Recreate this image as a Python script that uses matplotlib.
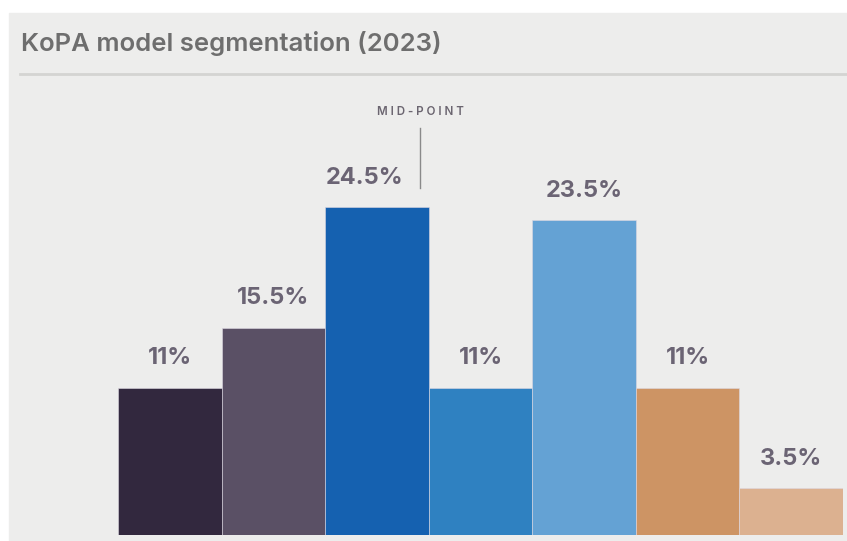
import matplotlib
matplotlib.use("Agg")
import matplotlib.pyplot as plt
from matplotlib.patches import Rectangle
from matplotlib.lines import Line2D

segments = ["S1", "S2", "S3", "S4", "S5", "S6", "S7"]
shares = [11, 15.5, 24.5, 11, 23.5, 11, 3.5]
labels = ["11%", "15.5%", "24.5%", "11%", "23.5%", "11%", "3.5%"]
colors = ["#32283e", "#5a5065", "#1561b0", "#2f81c1", "#64a2d4", "#cd9464", "#dcb190"]
label_shift = [0, 0, -0.12, 0, 0, 0, 0]  # 24.5% sits left of the mid-point rule
midpoint_x = 2.42

W, H = 847, 541
fig = plt.figure(figsize=(W / 100, H / 100), dpi=100)
fig.patch.set_facecolor("white")

# gray panel + title rule
fig.patches.append(Rectangle((9 / W, 0), 1 - 9 / W, (H - 13) / H,
                             transform=fig.transFigure, color="#ededec", zorder=-10))
fig.lines.append(Line2D([20 / W, 1], [1 - 74 / H, 1 - 74 / H], transform=fig.transFigure,
                        color="#d4d4d2", lw=2, zorder=-5))
fig.text(21 / W, 1 - 43 / H, "KoPA model segmentation (2023)", fontsize=18.5,
         fontweight="semibold", color="#6e6e6e", family="Inter", va="center", ha="left")

ax = fig.add_axes([118 / W, 6 / H, 725 / W, 435 / H])
ax.set_facecolor("none")
ax.set_zorder(5)
x = range(len(segments))
ax.bar(x, shares, width=1.0, color=colors, edgecolor="#ddd8e2", linewidth=0.4)
for xi, v, lab, dx in zip(x, shares, labels, label_shift):
    ax.text(xi + dx, v + 2.2, lab, ha="center", va="center", fontsize=17,
            fontweight="bold", color="#6b6474", family="Inter")

ax.plot([midpoint_x, midpoint_x], [25.9, 30.4], color="#8a8a8a", lw=1)
ax.text(midpoint_x, 31.6, "M I D - P O I N T", ha="center", va="center", fontsize=8.3,
        color="#6b6570", family="Inter", fontweight="semibold")

ax.set_xlim(-0.5, 6.5)
ax.set_ylim(0, 32.5)
ax.axis("off")

fig.savefig("out.png", dpi=100)
